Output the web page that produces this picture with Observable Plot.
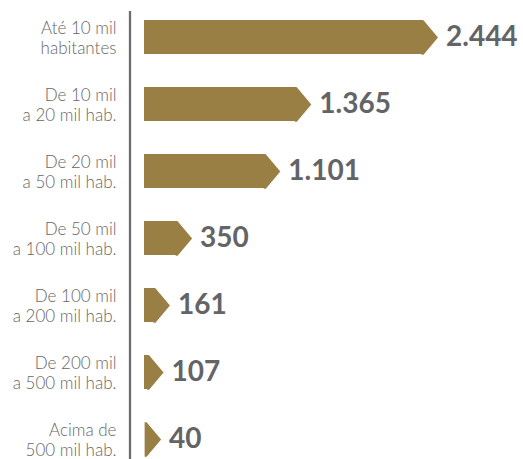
<!DOCTYPE html>
<html>
<head>
<meta charset="utf-8">
<script src="https://cdn.jsdelivr.net/npm/d3@7"></script>
<script src="https://cdn.jsdelivr.net/npm/@observablehq/plot@0.6"></script>
<style>
  html, body { margin: 0; padding: 0; background: #fff; }
  #chart { width: 523px; height: 459px; }
</style>
</head>
<body>
<div id="chart"></div>
<script>
const categories = [
  "Até 10 mil\nhabitantes",
  "De 10 mil\na 20 mil hab.",
  "De 20 mil\na 50 mil hab.",
  "De 50 mil\na 100 mil hab.",
  "De 100 mil\na 200 mil hab.",
  "De 200 mil\na 500 mil hab.",
  "Acima de\n500 mil hab."
];
const values = [2444, 1365, 1101, 350, 161, 107, 40];

const data = categories.map((c, i) => ({cat: c, value: values[i]}));

const fmt = d3.formatLocale({decimal: ",", thousands: ".", grouping: [3], currency: ["R$", ""]}).format(",d");

const barColor = "#9a7f45";
const arrowDepth = 14.5;
const halfH = 17.25;
const overlap = 2;
const arrow = {
  draw(ctx) {
    ctx.moveTo(-overlap, -halfH);
    ctx.lineTo(0, -halfH);
    ctx.lineTo(arrowDepth, 0);
    ctx.lineTo(0, halfH);
    ctx.lineTo(-overlap, halfH);
    ctx.closePath();
  }
};
const minStub = 86; // smallest value whose arrow base sits just past the axis start

const chart = Plot.plot({
  width: 523,
  height: 459,
  marginLeft: 136,
  marginRight: 100,
  marginTop: 20,
  marginBottom: 2,
  x: {domain: [0, d3.max(values)], axis: null},
  y: {domain: categories, axis: null, paddingInner: 0.49, paddingOuter: 0},
  style: {fontFamily: "Lato, 'Liberation Sans', sans-serif"},
  marks: [
    Plot.ruleX([0], {stroke: "#6d6d6d", strokeWidth: 2.3, dx: -6.5, insetTop: -9, insetBottom: -3}),
    Plot.barX(data, {y: "cat", x1: 0, x2: "value", fill: barColor, insetLeft: 8}),
    Plot.dot(data, {y: "cat", x: d => Math.max(d.value, minStub), symbol: arrow, fill: barColor, stroke: "none", r: 5}),
    Plot.text(data, {
      y: "cat", frameAnchor: "left", text: "cat", textAnchor: "end", dx: -20,
      fill: "#666", fontSize: 17, fontWeight: 300, lineHeight: 1.18
    }),
    Plot.text(data, {
      y: "cat", x: d => Math.max(d.value, minStub), text: d => fmt(d.value), textAnchor: "start", dx: 22.5,
      fill: "#636466", fontSize: 28, fontWeight: "bold"
    })
  ]
});
document.getElementById("chart").appendChild(chart);
</script>
</body>
</html>
